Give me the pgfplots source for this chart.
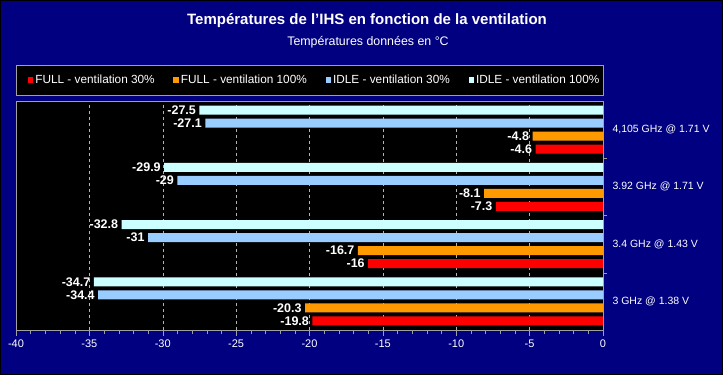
\documentclass[border=0pt]{standalone}
\usepackage{fontspec}
\setmainfont{Liberation Sans}
\usepackage{pgfplots}
\pgfplotsset{compat=1.18}
\definecolor{bgnavy}{HTML}{000080}
\definecolor{cred}{HTML}{FF0000}
\definecolor{corange}{HTML}{FF9900}
\definecolor{cblue}{HTML}{99CCFF}
\definecolor{ccyan}{HTML}{CCFFFF}
\definecolor{axgray}{HTML}{A0A0A0}
\begin{document}
\begin{tikzpicture}[x=1pt,y=1pt]
\fill[bgnavy] (0,0) rectangle (723,375);
\draw[black,line width=1pt] (0.5,0.5) rectangle (722.5,374.5);
\useasboundingbox (0,0) rectangle (723,375);
\filldraw[fill=black, draw=axgray] (16,279.3) rectangle (603,309.3);
\node[white,font=\fontsize{15}{18}\selectfont\bfseries] at (367,354) {Températures de l'IHS en fonction de la ventilation};
\node[white,font=\fontsize{12.4}{15}\selectfont] at (368,333) {Températures données en °C};
\begin{axis}[
  at={(16pt,45pt)}, anchor=south west,
  scale only axis, width=587pt, height=229pt,
  xbar, bar width=9pt,
  xmin=-40, xmax=0, ymin=-0.5, ymax=3.5,
  axis background/.style={fill=black},
  axis line style={axgray},
  xtick={-40,-35,...,0}, minor x tick num=4,
  tick align=outside, xtick pos=bottom, ytick pos=right,
  major tick length=6pt, minor tick length=4pt,
  every tick/.style={axgray},
  ytick={0,1,2,3},
  yticklabels={3 GHz @ 1.38 V, 3.4 GHz @ 1.43 V, 3.92 GHz @ 1.71 V, {4,105 GHz @ 1.71 V}},
  minor ytick={0.5,1.5,2.5},
  major y tick style={draw=none},
  minor y tick style={axgray},
  yticklabel pos=right,
  yticklabel style={white, font=\fontsize{10.5}{13}\selectfont, anchor=west},
  xticklabel style={white, font=\fontsize{11}{13}\selectfont},
  /pgf/number format/assume math mode=true,
  xmajorgrids, grid style={axgray!80, dashed},
  nodes near coords={\pgfmathprintnumber[fixed,precision=1]{\pgfplotspointmeta}},
  every node near coord/.append style={white, font=\fontsize{12.5}{15}\selectfont\bfseries},
  legend columns=4,
  legend style={at={(0.0199,1.0917)}, anchor=west, draw=none, fill=none, inner sep=0pt,
    text=white, font=\fontsize{11.8}{14}\selectfont,
    /tikz/every even column/.append style={column sep=16.7pt}},
  legend image code/.code={\fill[#1] (0pt,-2.75pt) rectangle (5.5pt,2.75pt);},
]
\addplot[fill=cred, draw=none, bar shift=-19.5pt] coordinates {(-19.8,0) (-16,1) (-7.3,2) (-4.6,3)};
\addlegendentry{FULL - ventilation 30\%}
\addplot[fill=corange, draw=none, bar shift=-6.5pt] coordinates {(-20.3,0) (-16.7,1) (-8.1,2) (-4.8,3)};
\addlegendentry{FULL - ventilation 100\%}
\addplot[fill=cblue, draw=none, bar shift=6.5pt] coordinates {(-34.4,0) (-31,1) (-29,2) (-27.1,3)};
\addlegendentry{IDLE - ventilation 30\%}
\addplot[fill=ccyan, draw=none, bar shift=19.5pt] coordinates {(-34.7,0) (-32.8,1) (-29.9,2) (-27.5,3)};
\addlegendentry{IDLE - ventilation 100\%}
\end{axis}
\end{tikzpicture}
\end{document}
